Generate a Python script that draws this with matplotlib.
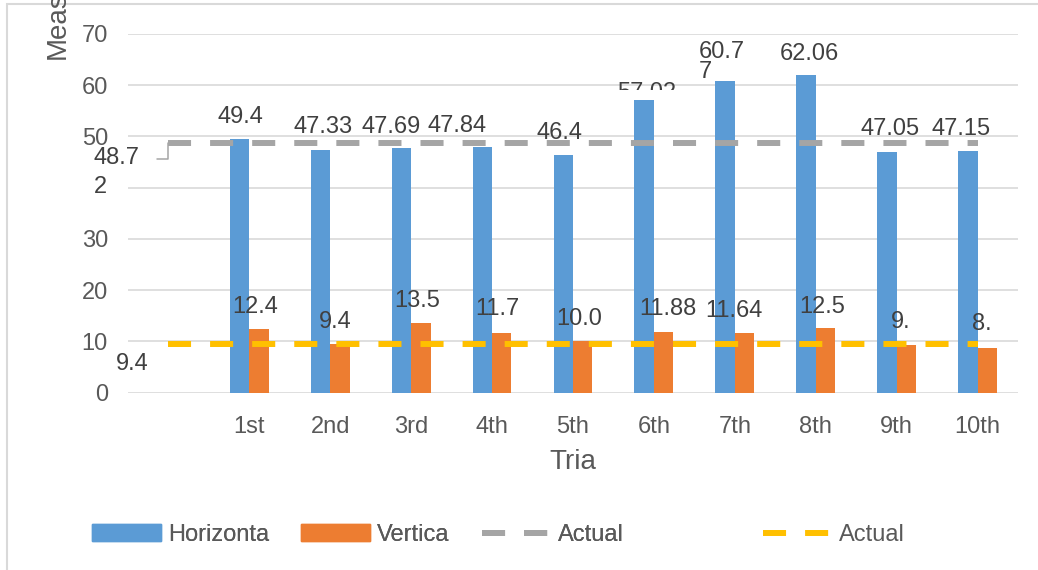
import matplotlib
matplotlib.use("Agg")
import matplotlib.pyplot as plt
from matplotlib.patches import Rectangle, Patch
from matplotlib.lines import Line2D
from matplotlib.transforms import Bbox, TransformedBbox

# Data
categories = ['', '1st', '2nd', '3rd', '4th', '5th', '6th', '7th', '8th', '9th', '10th']
horizontal = [49.4, 47.33, 47.69, 47.84, 46.4, 57.02, 60.77, 62.06, 47.05, 47.15]
vertical = [12.4, 9.4, 13.5, 11.7, 10.0, 11.88, 11.64, 12.5, 9.2, 8.7]
horizontal_labels = ['49.4', '47.33', '47.69', '47.84', '46.4', '57.02', '60.7\n7', '62.06', '47.05', '47.15']
vertical_labels = ['12.4', '9.4', '13.5', '11.7', '10.0', '11.88', '11.64', '12.5', '9.', '8.']
actual_horizontal = 48.72
actual_vertical = 9.4
actual_horizontal_label = '48.7\n2'
actual_vertical_label = '9.4'
yticks = [0, 10, 20, 30, 40, 50, 60, 70]
ytick_labels = ['0', '10', '20', '30', '', '50', '60', '70']

# label nudges in pixels (dx to label centre, dy bar top -> last baseline)
h_offsets = [(0.3, 16), (2.4, 16.7), (-10.5, 15.4), (-25.4, 15.4), (-3.3, 16.2),
             (2.8, 1), (-3.6, 2.8), (3, 14.2), (3.1, 16.2), (-6.8, 15.7)]
v_offsets = [(-4.1, 15.6), (-5, 16), (-3.4, 16.6), (-4.3, 17.5), (-3.7, 16.2),
             (3.9, 16.6), (-10.5, 16.1), (-2.9, 15.1), (-5.3, 17), (-5.2, 17.9)]

BLUE = '#5B9BD5'
ORANGE = '#ED7D31'
GRAY = '#A5A5A5'
YELLOW = '#FFC000'
TICK = '#595959'
LABEL = '#404040'

plt.rcParams['font.family'] = ['Liberation Sans', 'DejaVu Sans']
plt.rcParams['lines.scale_dashes'] = False

fig = plt.figure(figsize=(10.38, 5.70), dpi=100)
ax = fig.add_axes([0.1233, 0.3114, 0.8574, 0.629])

x = list(range(len(categories)))
bx = x[1:]
w = 0.24
ax.bar([i - w / 2 for i in bx], horizontal, width=w, color=BLUE, zorder=2)
ax.bar([i + w / 2 for i in bx], vertical, width=w, color=ORANGE, zorder=2)

dash = (16.6, 13.7)
ax.plot(x, [actual_horizontal] * len(x), color=GRAY, lw=4.3, dashes=dash, zorder=3)
ax.plot(x, [actual_vertical] * len(x), color=YELLOW, lw=4.3, dashes=dash, zorder=3)

# data labels
for i, v, lab, (dx, dy) in zip(bx, horizontal, horizontal_labels, h_offsets):
    t = ax.annotate(lab, xy=(i - w / 2, v), xytext=(dx, dy), textcoords='offset pixels',
                    ha='center', va='baseline', multialignment='left', linespacing=0.88,
                    fontsize=17, color=LABEL, zorder=4)
    if lab == '57.02':
        t.set_clip_box(TransformedBbox(Bbox([[-0.5, 58.98], [10.5, 90]]), ax.transData))
        t.set_clip_on(True)

for i, v, lab, (dx, dy) in zip(bx, vertical, vertical_labels, v_offsets):
    ax.annotate(lab, xy=(i + w / 2, v), xytext=(dx, dy), textcoords='offset pixels',
                ha='center', va='baseline', fontsize=17, color=LABEL, zorder=4)

ax.annotate(actual_horizontal_label, xy=(0, actual_horizontal), xytext=(-52, -50.4),
            textcoords='offset pixels', ha='center', va='baseline', multialignment='left',
            linespacing=1.42, fontsize=17, color=LABEL, zorder=4)
ax.annotate('', xy=(0, actual_horizontal), xytext=(-11.5, -16.4), textcoords='offset pixels',
            arrowprops=dict(arrowstyle='-', color=GRAY, lw=1.1, shrinkA=0, shrinkB=0,
                            connectionstyle='angle,angleA=0,angleB=90,rad=0'))
ax.annotate(actual_vertical_label, xy=(0, actual_vertical), xytext=(-36.5, -25.7),
            textcoords='offset pixels', ha='center', va='baseline',
            fontsize=17, color=LABEL, zorder=4)

ax.set_xlim(-0.5, len(categories) - 0.5)
ax.set_ylim(0, 70)
ax.set_xticks(x)
ax.set_xticklabels(categories)
ax.set_yticks(yticks)
ax.set_yticklabels(ytick_labels)
ax.tick_params(axis='both', length=0, labelsize=17, labelcolor=TICK)
ax.tick_params(axis='y', pad=14.4)
ax.tick_params(axis='x', pad=17.2)
for s in ax.spines.values():
    s.set_visible(False)
ax.yaxis.grid(True, color='#D9D9D9', lw=1.2)
ax.set_axisbelow(True)

ax.set_xlabel('Tria', fontsize=20, color=TICK, labelpad=7.5)
fig.text(58 / 1038, 1 - 59 / 570, 'Meas', rotation=90, ha='center', va='bottom',
         fontsize=20, color=TICK)

# chart area border
fig.add_artist(Rectangle((7 / 1038, -0.05), 2.0, (570 - 4) / 570 + 0.05,
                         transform=fig.transFigure, fill=False,
                         edgecolor='#D9D9D9', lw=1.5))

# legend
h1 = [Patch(color=BLUE), Patch(color=ORANGE),
      Line2D([], [], color=GRAY, lw=4.3, dashes=dash)]
leg1 = fig.legend(h1, ['Horizonta', 'Vertica', 'Actual'], loc='center left',
                  bbox_to_anchor=(92 / 1038, 1 - 535 / 570), ncol=3, frameon=False,
                  fontsize=17, labelcolor=TICK, handlelength=2.92, handletextpad=0.3,
                  columnspacing=1.36, borderpad=0, borderaxespad=0)
fig.add_artist(leg1)
h2 = [Line2D([], [], color=YELLOW, lw=4.3, dashes=dash)]
fig.legend(h2, ['Actual'], loc='center left', bbox_to_anchor=(763 / 1038, 1 - 535 / 570),
           frameon=False, fontsize=17, labelcolor=TICK, handlelength=2.92,
           handletextpad=0.3, borderpad=0, borderaxespad=0)

fig.savefig('out.png', dpi=100, facecolor='white')
